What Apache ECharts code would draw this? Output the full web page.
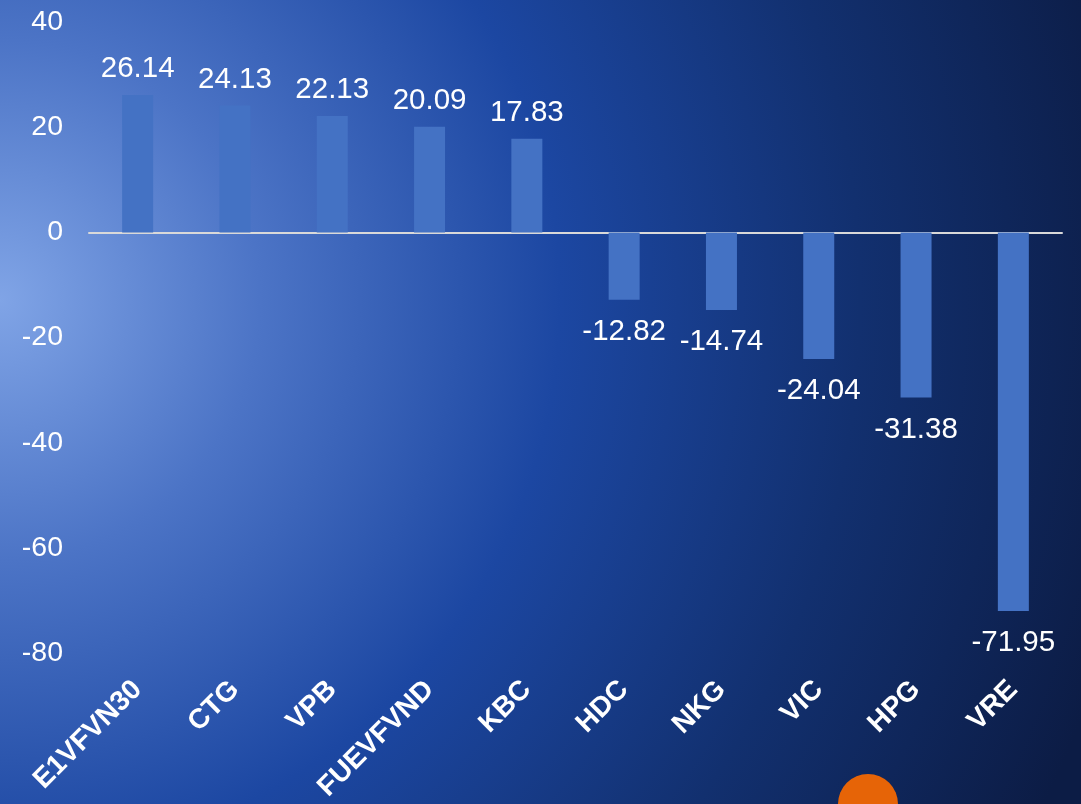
<!DOCTYPE html>
<html>
<head>
<meta charset="utf-8">
<script src="https://cdn.jsdelivr.net/npm/echarts@6/dist/echarts.min.js"></script>
<style>
html,body{margin:0;padding:0;}
#chart{width:1081px;height:804px;background:radial-gradient(circle at 0px 300px,#80a4e6 0px,#4c74c6 260px,#1c47a2 560px,#12306f 860px,#0c1c45 1160px);}
</style>
</head>
<body>
<div id="chart"></div>
<script>
const categories = ['E1VFVN30','CTG','VPB','FUEVFVND','KBC','HDC','NKG','VIC','HPG','VRE'];
const values = [26.14, 24.13, 22.13, 20.09, 17.83, -12.82, -14.74, -24.04, -31.38, -71.95];
const yTicks = {min: -80, max: 40, interval: 20};

const FONT = '"Liberation Sans", Arial, sans-serif';
const chart = echarts.init(document.getElementById('chart'), null, {renderer: 'canvas'});
chart.setOption({
  backgroundColor: 'transparent',
  animation: false,
  grid: {left: 89, right: 19, top: 22, bottom: 149, containLabel: false},
  xAxis: {
    type: 'category',
    data: categories,
    axisLine: {onZero: true, lineStyle: {color: '#d9d9d9', width: 2}},
    axisTick: {show: false},
    axisLabel: {interval: 0, rotate: 45, margin: 32, color: '#ffffff', fontSize: 28, fontWeight: 'bold', fontFamily: FONT}
  },
  yAxis: {
    type: 'value',
    min: yTicks.min, max: yTicks.max, interval: yTicks.interval,
    axisLine: {show: false},
    axisTick: {show: false},
    splitLine: {show: false},
    axisLabel: {margin: 26, color: '#ffffff', fontSize: 28.5, fontFamily: FONT}
  },
  series: [{
    type: 'bar',
    barWidth: 31,
    itemStyle: {color: '#4472c4'},
    data: values.map(v => ({
      value: v,
      label: {show: true, position: v >= 0 ? 'top' : 'bottom', distance: v >= 0 ? 11 : 17,
              color: '#ffffff', fontSize: 29.5, fontFamily: FONT,
              formatter: p => p.value.toFixed(2)}
    }))
  }],
  graphic: [{
    type: 'circle',
    shape: {cx: 868, cy: 804, r: 30},
    style: {fill: '#e66407'},
    silent: true
  }]
});
</script>
</body>
</html>
